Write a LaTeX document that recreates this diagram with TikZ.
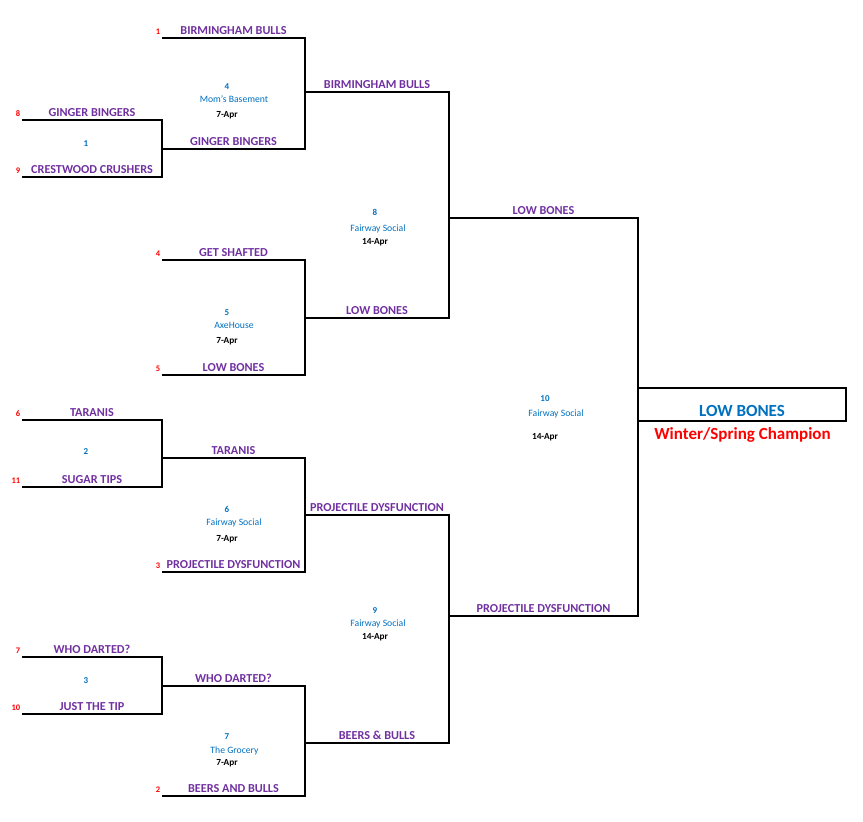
\documentclass[tikz,border=0pt]{standalone}
\usepackage{fontspec}
\setmainfont{Carlito}
\usepackage{tikz}
\usetikzlibrary{positioning}
\definecolor{teampurple}{RGB}{112,48,160}
\definecolor{infoblue}{RGB}{0,112,192}
\definecolor{seedred}{RGB}{255,0,0}

\begin{document}
\begin{tikzpicture}[x=1pt, y=-1pt,
    bracket/.style={draw=black, line width=1.1pt},
    team/.style={anchor=base, inner sep=0pt, text=teampurple, font=\fontsize{12.2}{14}\selectfont\bfseries},
    seed/.style={anchor=base east, inner sep=0pt, text=seedred, font=\fontsize{8.5}{10}\selectfont\bfseries},
    matchno/.style={anchor=base, inner sep=0pt, text=infoblue, font=\fontsize{9}{11}\selectfont\bfseries},
    venue/.style={anchor=base, inner sep=0pt, text=infoblue, font=\fontsize{9.7}{11}\selectfont},
    gamedate/.style={anchor=base, inner sep=0pt, text=black, font=\fontsize{9.3}{11}\selectfont\bfseries},
    champbox/.style={draw=black, line width=2pt, minimum width=208pt, minimum height=33pt, inner sep=0pt},
    champname/.style={anchor=base, inner sep=0pt, text=infoblue, font=\fontsize{17}{20}\selectfont\bfseries},
    champtitle/.style={anchor=base, inner sep=0pt, text=seedred, font=\fontsize{17}{20}\selectfont\bfseries}]
    \useasboundingbox (0,0) rectangle (863,822);

    % slots: name / left x / right x / line y / team
    \foreach \s/\xa/\xb/\y/\team in {
        r1a/22/162/120/GINGER BINGERS,  r1b/22/162/177/CRESTWOOD CRUSHERS,
        r1c/22/162/420/TARANIS,         r1d/22/162/487/SUGAR TIPS,
        r1e/22/162/657/WHO DARTED?,     r1f/22/162/714/JUST THE TIP,
        r2a/162/305/38/BIRMINGHAM BULLS, r2b/162/305/149/GINGER BINGERS,
        r2c/162/305/260/GET SHAFTED,    r2d/162/305/375/LOW BONES,
        r2e/162/305/458/TARANIS,        r2f/162/305/572/PROJECTILE DYSFUNCTION,
        r2g/162/305/686/WHO DARTED?,    r2h/162/305/796/BEERS AND BULLS,
        r3a/305/449/92/BIRMINGHAM BULLS, r3b/305/449/318/LOW BONES,
        r3c/305/449/515/PROJECTILE DYSFUNCTION, r3d/305/449/743/BEERS \& BULLS,
        r4a/449/638/218/LOW BONES,      r4b/449/638/616/PROJECTILE DYSFUNCTION}{
        \coordinate (\s-l) at (\xa,\y);
        \coordinate (\s-r) at (\xb,\y);
        \node[team] (\s-t) at ({(\xa+\xb)/2},\y-3.5) {\team};
    }

    % seeds
    \foreach \s/\n in {r1a/8, r1b/9, r1c/6, r1d/11, r1e/7, r1f/10,
                       r2a/1, r2c/4, r2d/5, r2f/3, r2h/2}{
        \node[seed] (\s-seed) at ([xshift=-1.5pt, yshift=3.5pt]\s-l) {\n};
    }

    % brackets
    \foreach \a/\b in {r1a/r1b, r1c/r1d, r1e/r1f, r2a/r2b, r2c/r2d, r2e/r2f,
                       r2g/r2h, r3a/r3b, r3c/r3d, r4a/r4b}{
        \draw[bracket] (\a-l) -- (\a-r) -- (\b-r) -- (\b-l);
    }

    % match numbers, venues and dates
    \foreach \n/\x/\y in {1/86/146, 2/86/454, 3/86/683}{
        \node[matchno] (m\n) at (\x,\y) {\n};
    }
    \foreach \n/\xn/\yn/\xv/\yv/\place/\xd/\yd/\day in {
        4/227/89/234/102/Mom's Basement/227/117/7-Apr,
        5/227/315/234/328/AxeHouse/227/343/7-Apr,
        6/227/512/234/525/Fairway Social/227/541/7-Apr,
        7/227/739/234.5/753/The Grocery/227/765/7-Apr,
        8/375/215/378/231/Fairway Social/375/244/14-Apr,
        9/375/613/378/626/Fairway Social/375/639/14-Apr,
        10/545/401/556/416/Fairway Social/545/439/14-Apr}{
        \node[matchno] (m\n) at (\xn,\yn) {\n};
        \node[venue] (m\n-v) at (\xv,\yv) {\place};
        \node[gamedate] (m\n-d) at (\xd,\yd) {\day};
    }

    % champion
    \node[champbox] (champ) at (742,404.5) {};
    \node[champname] (champ-t) at (742,416) {LOW BONES};
    \node[champtitle] (champ-s) at (742.5,439) {Winter/Spring Champion};
\end{tikzpicture}
\end{document}
